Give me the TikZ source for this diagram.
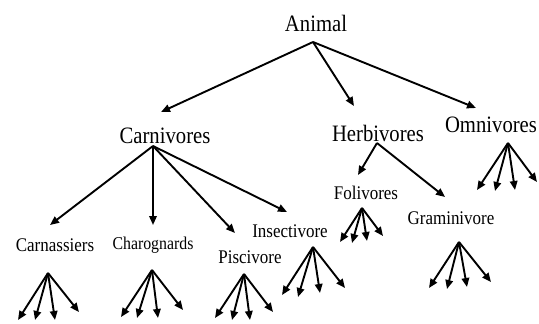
\documentclass[tikz,border=0pt]{standalone}
\usepackage{fontspec}
\setmainfont[FakeStretch=0.88]{Liberation Serif}
\usetikzlibrary{arrows.meta}
\begin{document}
\begin{tikzpicture}[x=1pt,y=-1pt,
  lbl/.style={inner sep=0pt},
  big/.style={lbl,font=\fontsize{23.5}{26}\selectfont},
  mid/.style={lbl,font=\fontsize{19.3}{22}\selectfont},
  sml/.style={lbl,font=\fontsize{18}{20}\selectfont},
  arr/.style={line width=1.9pt,-{Triangle[length=9pt,width=7.5pt]}}]
\useasboundingbox (0,0) rectangle (539,324);
% labels
\node[big] (animal) at (316,23) {Animal};
\node[big] (carn) at (165,136) {Carnivores};
\node[big] (herb) at (378,133) {Herbivores};
\node[big] (omni) at (491,125) {Omnivores};
\node[mid] (carna) at (55,245) {Carnassiers};
\node[sml] (charo) at (153,245) {Charognards};
\node[mid] (pisci) at (250,257) {Piscivore};
\node[mid] (insec) at (290,231) {Insectivore};
\node[mid] (foli) at (366,193) {Folivores};
\node[mid] (grami) at (451,218) {Graminivore};
% origins
\coordinate (oA) at (313,42);
\coordinate (oC) at (153,146);
\coordinate (oH) at (377,143);
\coordinate (oO) at (508,143);
\coordinate (oCa) at (48,273);
\coordinate (oCh) at (152,270);
\coordinate (oPi) at (244,274);
\coordinate (oIn) at (313,247);
\coordinate (oFo) at (362,208);
\coordinate (oGr) at (459,242);
% tips of tree arrows
\coordinate (tC) at (161,112);
\coordinate (tH) at (354,106);
\coordinate (tO) at (476,108);
\coordinate (tCa) at (50,225);
\coordinate (tCh) at (153,225);
\coordinate (tPi) at (235,233);
\coordinate (tIn) at (287,212);
\coordinate (tFo) at (358,175);
\coordinate (tGr) at (445,197);
\draw[arr] (oA) -- (tC);
\draw[arr] (oA) -- (tH);
\draw[arr] (oA) -- (tO);
\draw[arr] (oC) -- (tCa);
\draw[arr] (oC) -- (tCh);
\draw[arr] (oC) -- (tPi);
\draw[arr] (oC) -- (tIn);
\draw[arr] (oH) -- (tFo);
\draw[arr] (oH) -- (tGr);
% fans
\foreach \o/\i/\x/\y in {
  oCa/1/18/320, oCa/2/35/320, oCa/3/55/320, oCa/4/79/312,
  oCh/1/121/317, oCh/2/137/318, oCh/3/158/318, oCh/4/183/310,
  oPi/1/215/318, oPi/2/232/320, oPi/3/250/320, oPi/4/273/312,
  oIn/1/282/295, oIn/2/298/297, oIn/3/320/293, oIn/4/345/288,
  oFo/1/340/242, oFo/2/352/243, oFo/3/367/241, oFo/4/383/236,
  oGr/1/429/288, oGr/2/447/289, oGr/3/467/287, oGr/4/491/282,
  oO/1/477/190, oO/2/495/191, oO/3/515/190, oO/4/537/182}{
  \coordinate (f-\o-\i) at (\x,\y);
  \draw[arr] (\o) -- (f-\o-\i);
}
\end{tikzpicture}
\end{document}
